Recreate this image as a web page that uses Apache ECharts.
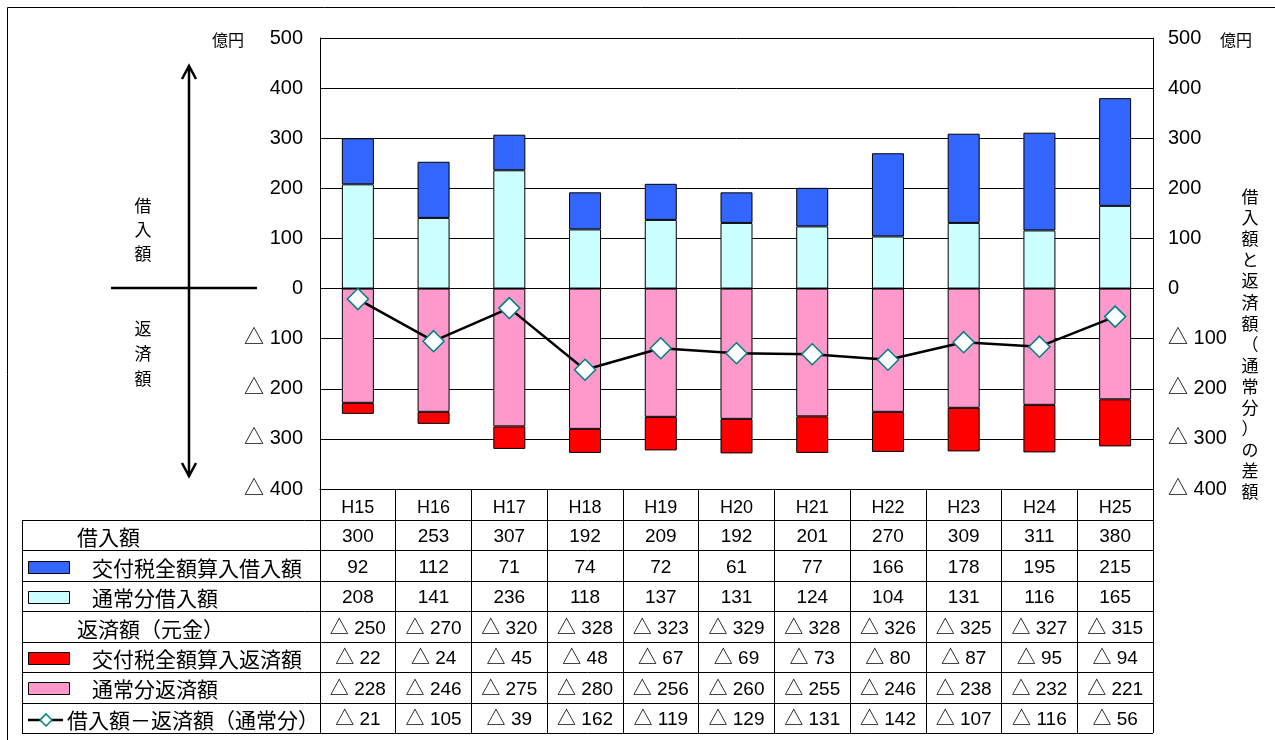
<!DOCTYPE html>
<html>
<head>
<meta charset="utf-8">
<script src="https://cdn.jsdelivr.net/npm/echarts@6/dist/echarts.min.js"></script>
<style>
  html, body { margin: 0; padding: 0; background: #fff; }
  #chart { width: 1275px; height: 740px; }
</style>
</head>
<body>
<div id="chart"></div>
<script>
// 年度
const categories = ["H15", "H16", "H17", "H18", "H19", "H20", "H21", "H22", "H23", "H24", "H25"];
// 借入額（億円）
const borrowTotal = [300, 253, 307, 192, 209, 192, 201, 270, 309, 311, 380];
const borrowKofu = [92, 112, 71, 74, 72, 61, 77, 166, 178, 195, 215];
const borrowNormal = [208, 141, 236, 118, 137, 131, 124, 104, 131, 116, 165];
// 返済額（元金, 億円, △表示）
const repayTotal = [250, 270, 320, 328, 323, 329, 328, 326, 325, 327, 315];
const repayKofu = [22, 24, 45, 48, 67, 69, 73, 80, 87, 95, 94];
const repayNormal = [228, 246, 275, 280, 256, 260, 255, 246, 238, 232, 221];
// 借入額－返済額（通常分）
const diffNormal = [-21, -105, -39, -162, -119, -129, -131, -142, -107, -116, -56];

const C_KOFU_B = "#3366FF";
const C_NORM_B = "#CCFFFF";
const C_KOFU_R = "#FF0000";
const C_NORM_R = "#FF99CC";

const JP = "'Noto Sans CJK JP', sans-serif";
const NUM = "'Liberation Sans', Arial, 'Noto Sans CJK JP', sans-serif";

function tri(v) {
  return v < 0 ? "△ " + -v : String(v);
}

const chart = echarts.init(document.getElementById("chart"));

const yAxisBase = {
  type: "value",
  min: -400,
  max: 500,
  interval: 100,
  axisLine: { show: true, lineStyle: { color: "#000", width: 1 } },
  axisTick: { show: false },
  axisLabel: { formatter: tri, color: "#000", fontSize: 20, fontFamily: NUM },
};

chart.setOption({
  animation: false,
  grid: { left: 320, right: 122, top: 38, bottom: 251 },
  xAxis: {
    type: "category",
    data: categories,
    axisLine: { onZero: false, lineStyle: { color: "#000", width: 1 } },
    axisTick: { show: true, length: 244, lineStyle: { color: "#000", width: 1 } },
    axisLabel: { color: "#000", fontSize: 18, fontFamily: NUM, margin: 10 },
  },
  yAxis: [
    Object.assign({}, yAxisBase, {
      position: "left",
      axisLabel: Object.assign({}, yAxisBase.axisLabel, { margin: 17 }),
      splitLine: { show: true, lineStyle: { color: "#000", width: 1 } },
    }),
    Object.assign({}, yAxisBase, {
      position: "right",
      axisLabel: Object.assign({}, yAxisBase.axisLabel, { margin: 15 }),
      splitLine: { show: false },
    }),
  ],
  series: [
    {
      name: "通常分借入額", type: "bar", stack: "a", barWidth: 32,
      itemStyle: { color: C_NORM_B, borderColor: "#000", borderWidth: 1 },
      data: borrowNormal,
    },
    {
      name: "交付税全額算入借入額", type: "bar", stack: "a", barWidth: 32,
      itemStyle: { color: C_KOFU_B, borderColor: "#000", borderWidth: 1 },
      data: borrowKofu,
    },
    {
      name: "通常分返済額", type: "bar", stack: "a", barWidth: 32,
      itemStyle: { color: C_NORM_R, borderColor: "#000", borderWidth: 1 },
      data: repayNormal.map(v => -v),
    },
    {
      name: "交付税全額算入返済額", type: "bar", stack: "a", barWidth: 32,
      itemStyle: { color: C_KOFU_R, borderColor: "#000", borderWidth: 1 },
      data: repayKofu.map(v => -v),
    },
    {
      name: "借入額－返済額（通常分）", type: "line", z: 5,
      symbol: "diamond", symbolSize: 21,
      lineStyle: { color: "#000", width: 2.5 },
      itemStyle: { color: "#fff", borderColor: "#008080", borderWidth: 1.5 },
      data: diffNormal,
    },
  ],
});

// 表（グラフ下）
const rows = [
  { label: "借入額", x: 77, values: borrowTotal.map(tri) },
  { label: "交付税全額算入借入額", x: 92, swatch: C_KOFU_B, values: borrowKofu.map(tri) },
  { label: "通常分借入額", x: 92, swatch: C_NORM_B, values: borrowNormal.map(tri) },
  { label: "返済額（元金）", x: 77, values: repayTotal.map(v => tri(-v)) },
  { label: "交付税全額算入返済額", x: 92, swatch: C_KOFU_R, values: repayKofu.map(v => tri(-v)) },
  { label: "通常分返済額", x: 92, swatch: C_NORM_R, values: repayNormal.map(v => tri(-v)) },
  { label: "借入額－返済額（通常分）", x: 67, line: true, values: diffNormal.map(tri) },
];

const tableTop = 520;
const rowH = 30.45;
const tableLeft = 22;
const tableRight = 1153;
const xs = categories.map(c => chart.convertToPixel({ xAxisIndex: 0 }, c));
const g = [];

function line(pts, w) {
  g.push({ type: "polyline", shape: { points: pts }, style: { stroke: "#000", lineWidth: w || 1, fill: null } });
}

for (let i = 0; i <= rows.length; i++) {
  const y = Math.round(tableTop + i * rowH) + 0.5;
  line([[tableLeft, y], [tableRight, y]], 1);
}
line([[tableLeft + 0.5, tableTop], [tableLeft + 0.5, tableTop + rows.length * rowH]], 1);

rows.forEach((r, i) => {
  const cy = tableTop + (i + 0.5) * rowH;
  g.push({
    type: "text", x: r.x, y: cy + 2,
    style: { text: r.label, fill: "#000", font: "21px " + JP, textVerticalAlign: "middle" },
  });
  if (r.swatch) {
    g.push({
      type: "rect", shape: { x: 28.5, y: Math.round(cy - 5) + 0.5, width: 41, height: 12 },
      style: { fill: r.swatch, stroke: "#000", lineWidth: 1 },
    });
  }
  if (r.line) {
    line([[28, cy + 2], [63, cy + 2]], 2.5);
    g.push({
      type: "polygon", shape: { points: [[46, cy - 4], [52, cy + 2], [46, cy + 8], [40, cy + 2]] },
      style: { fill: "#fff", stroke: "#008080", lineWidth: 1.5 },
    });
  }
  r.values.forEach((v, j) => {
    g.push({
      type: "text", x: xs[j], y: cy + 2,
      style: { text: v, fill: "#000", font: "19px " + NUM, textAlign: "center", textVerticalAlign: "middle" },
    });
  });
});

// 矢印と注記
line([[189, 476], [189, 66]], 2.5);
line([[182, 79], [189, 66], [196, 79]], 2.5);
line([[182, 463], [189, 476], [196, 463]], 2.5);
line([[111, 288], [257, 288]], 2.5);

function vtext(chars, x, y, lh) {
  g.push({
    type: "text", x: x, y: y,
    style: { text: chars.split("").join("\n"), fill: "#000", font: "17px " + JP, textAlign: "center", lineHeight: lh },
  });
}
vtext("借入額", 143, 194, 24);
vtext("返済額", 143, 316, 25);
vtext("借入額と返済額（通常分）の差額", 1250, 186, 21.1);

g.push({ type: "text", x: 212, y: 40, style: { text: "億円", fill: "#000", font: "16px " + JP, textVerticalAlign: "middle" } });
g.push({ type: "text", x: 1220, y: 40, style: { text: "億円", fill: "#000", font: "16px " + JP, textVerticalAlign: "middle" } });

// 外枠
g.push({ type: "rect", shape: { x: 7.5, y: 7.5, width: 1300, height: 800 }, style: { fill: null, stroke: "#000", lineWidth: 1 }, z: -1 });

chart.setOption({ graphic: g });
</script>
</body>
</html>
